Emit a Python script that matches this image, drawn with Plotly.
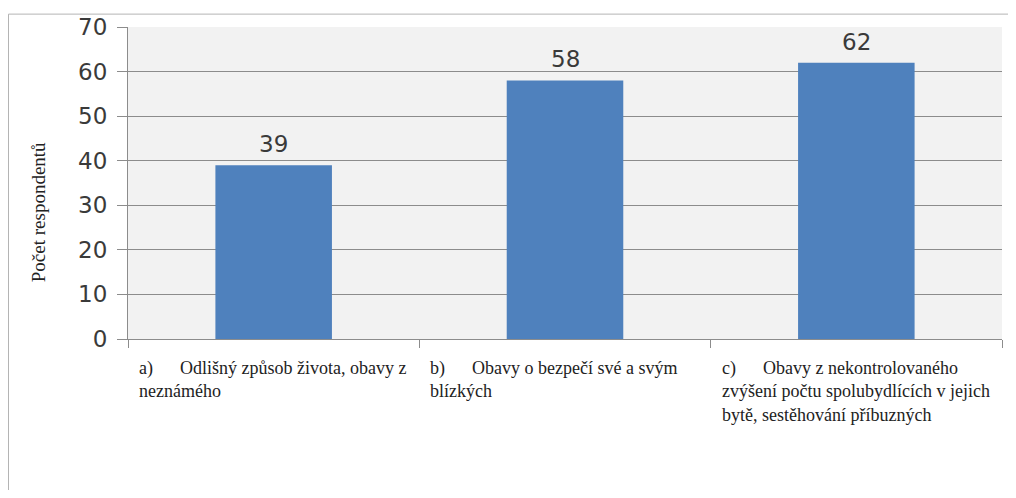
import plotly.graph_objects as go

categories = ["a", "b", "c"]
labels = [
    "a)&nbsp;&nbsp;&nbsp;&nbsp;&nbsp;&nbsp;Odlišný způsob života, obavy z<br>neznámého",
    "b)&nbsp;&nbsp;&nbsp;&nbsp;&nbsp;&nbsp;Obavy o bezpečí své a svým<br>blízkých",
    "c)&nbsp;&nbsp;&nbsp;&nbsp;&nbsp;&nbsp;Obavy z nekontrolovaného<br>zvýšení počtu spolubydlících v jejich<br>bytě, sestěhování příbuzných",
]
values = [39, 58, 62]
y_ticks = [0, 10, 20, 30, 40, 50, 60, 70]

# page body has an 8px margin; figure sized to fit the 1016x498 window
W, H = 1000, 482
L, R, T, B = 120, 6, 16, 151
pw = W - L - R
ph = H - T - B

xpos = list(range(len(categories)))

fig = go.Figure()
fig.add_trace(go.Bar(
    x=xpos, y=values, width=0.4,
    marker=dict(color="#4f81bd", line=dict(width=0)),
))

for i, v in enumerate(values):
    fig.add_annotation(
        x=xpos[i], y=v, xref="x", yref="y", text=str(v), showarrow=False,
        xanchor="center", yanchor="bottom", yshift=6,
        font=dict(family="DejaVu Sans", size=23, color="#3a3a3a"),
    )

for i, lab in enumerate(labels):
    fig.add_annotation(
        x=xpos[i] - 0.5, y=0, xref="x", yref="paper",
        text=lab, showarrow=False, xanchor="left", yanchor="top",
        align="left", xshift=9, yshift=-17,
        font=dict(family="Liberation Serif", size=18, color="#222222"),
    )

fig.add_annotation(
    x=(30 - L) / pw, y=(H - B - 203) / ph, xref="paper", yref="paper",
    text="Počet respondentů", textangle=-90, showarrow=False,
    xanchor="center", yanchor="middle",
    font=dict(family="Liberation Serif", size=19, color="#222222"),
)

# outer border
fig.add_shape(type="rect", xref="paper", yref="paper",
              x0=(0.5 - L) / pw, x1=(W + 20 - L) / pw,
              y0=-1.0, y1=1 + (T - 3) / ph,
              line=dict(color="#b4b4b4", width=1), fillcolor="rgba(0,0,0,0)",
              layer="below")

fig.update_layout(
    width=W, height=H,
    margin=dict(l=L, r=R, t=T, b=B),
    paper_bgcolor="white", plot_bgcolor="#f2f2f2",
    showlegend=False,
    xaxis=dict(
        range=[-0.5, 2.5], tickvals=[-0.5, 0.5, 1.5, 2.5], ticktext=["", "", "", ""],
        ticks="outside", ticklen=8, tickcolor="#8c8c8c", tickwidth=1,
        showgrid=False, showline=True, linecolor="#8c8c8c", linewidth=1,
        zeroline=False,
    ),
    yaxis=dict(
        range=[0, 70], tickvals=y_ticks,
        ticks="outside", ticklen=10, tickcolor="#8c8c8c", tickwidth=1,
        showgrid=True, gridcolor="#8c8c8c", gridwidth=1,
        showline=True, linecolor="#8c8c8c", linewidth=1, zeroline=False,
        tickfont=dict(family="DejaVu Sans", size=23, color="#3a3a3a"),
        ticklabelstandoff=5,
    ),
)

fig.write_html("out.html")
